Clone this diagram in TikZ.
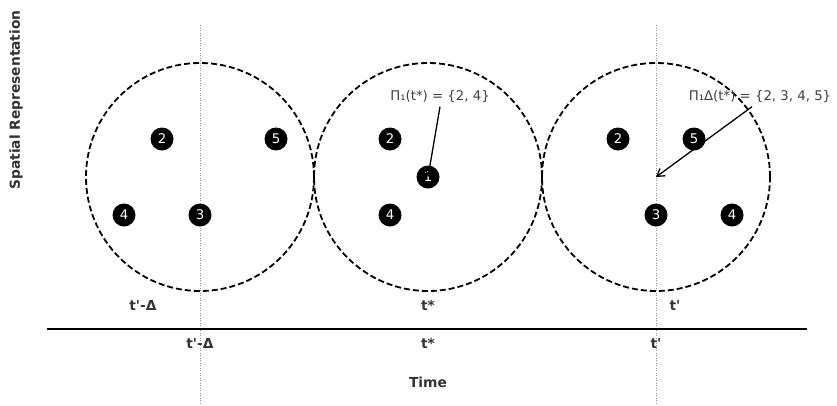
\documentclass[tikz,border=0pt]{standalone}
\usepackage{fontspec}
\setmainfont{DejaVu Sans}
\definecolor{labelgray}{RGB}{51,51,51}
\definecolor{notegray}{RGB}{64,64,64}
\definecolor{guidegray}{RGB}{150,150,150}
\usetikzlibrary{arrows.meta,positioning}

\begin{document}
\begin{tikzpicture}[
  x=1pt,y=-1pt,
  every node/.style={font=\fontsize{13.3}{15}\selectfont},
  obj/.style={circle,fill=black,text=white,minimum size=23pt,inner sep=0pt},
  zone/.style={draw,line width=1.8pt,dash pattern=on 6pt off 3pt},
  guide/.style={draw=guidegray,line width=1pt,dash pattern=on 1pt off 1.5pt},
  tlabel/.style={font=\fontsize{13.8}{15}\selectfont\bfseries,text=labelgray},
  note/.style={text=notegray},
  pointer/.style={line width=1.3pt,-{Straight Barb[length=7pt,width=9pt]}},
]
  \useasboundingbox (0,0) rectangle (837,405);

  % Neighbourhoods at t'-Delta, t* and t'
  \draw[zone] (200,177) circle [radius=114pt];
  \draw[zone] (428,177) circle [radius=114pt];
  \draw[zone] (656,177) circle [radius=114pt];

  % Guides and time axis
  \draw[guide] (200,25) -- (200,405);
  \draw[guide] (656,25) -- (656,405);
  \draw[line width=1.3pt] (47,329) -- (807,329);

  % Window 1: t'-Delta
  \node[obj] (a2) at (162,139) {2};
  \node[obj] (a5) at (276,139) {5};
  \node[obj] (a4) at (124,215) {4};
  \node[obj] (a3) at (200,215) {3};
  % Window 2: t*
  \node[obj] (b2) at (390,139) {2};
  \node[obj] (b1) at (428,177) {1};
  \node[obj] (b4) at (390,215) {4};
  % Window 3: t'
  \node[obj] (c2) at (618,139) {2};
  \node[obj] (c5) at (694,139) {5};
  \node[obj] (c3) at (656,215) {3};
  \node[obj] (c4) at (732,215) {4};
  \coordinate (c0) at (656,177);

  % Time labels
  \node[tlabel] (ua) at (143,305) {t\textquotesingle-Δ};
  \node[tlabel] (ub) at (428,305) {t*};
  \node[tlabel] (uc) at (675,305) {t\textquotesingle};
  \node[tlabel] (la) at (200,343) {t\textquotesingle-Δ};
  \node[tlabel] (lb) at (428,343) {t*};
  \node[tlabel] (lc) at (656,343) {t\textquotesingle};
  \node[tlabel] (xlab) at (428,382) {Time};
  \node[tlabel,rotate=90] (ylab) at (16,100) {Spatial Representation};

  % Annotations
  \node[note] (pi1) at (440,97) {Π₁(t*) = \{2, 4\}};
  \node[note] (pi2) at (760,97) {Π₁Δ(t*) = \{2, 3, 4, 5\}};
  \draw[pointer] (pi1.south) -- (b1.center);
  \draw[pointer] ([xshift=-8pt]pi2.south) -- (c0);
\end{tikzpicture}
\end{document}
